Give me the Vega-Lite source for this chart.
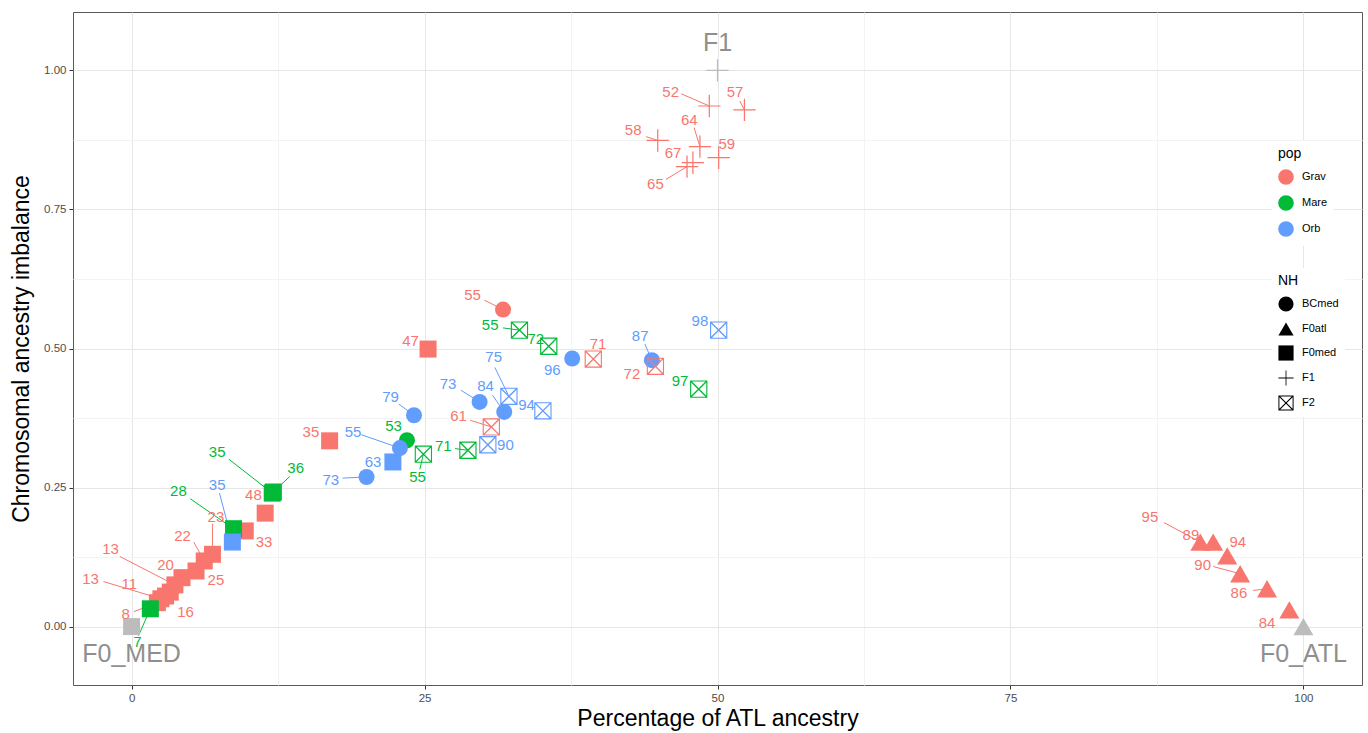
{
  "$schema": "https://vega.github.io/schema/vega-lite/v6.json",
  "width": 1289,
  "height": 673,
  "autosize": {"type": "none"},
  "padding": {"left": 73, "top": 12, "right": 6, "bottom": 48},
  "background": "white",
  "datasets": {
    "pts": [
      {"pop":"Grav","NH":"F0med","x":2.2,"y":0.043,"lab":"8","lx":-0.5,"ly":0.023,"sx":0.2,"sy":0.027},
      {"pop":"Grav","NH":"F0med","x":2.5,"y":0.05,"lab":"13","lx":-3.5,"ly":0.086,"sx":-2.4,"sy":0.081},
      {"pop":"Grav","NH":"F0med","x":2.9,"y":0.055,"lab":"11","lx":-0.2,"ly":0.077,"sx":null,"sy":null},
      {"pop":"Grav","NH":"F0med","x":3.3,"y":0.062,"lab":"16","lx":4.6,"ly":0.027,"sx":null,"sy":null},
      {"pop":"Grav","NH":"F0med","x":3.7,"y":0.075,"lab":"13","lx":-1.8,"ly":0.14,"sx":-1.0,"sy":0.126},
      {"pop":"Grav","NH":"F0med","x":4.3,"y":0.088,"lab":"20","lx":2.9,"ly":0.11,"sx":null,"sy":null},
      {"pop":"Grav","NH":"F0med","x":5.5,"y":0.1,"lab":"25","lx":7.2,"ly":0.083,"sx":null,"sy":null},
      {"pop":"Grav","NH":"F0med","x":6.2,"y":0.118,"lab":"22","lx":4.35,"ly":0.162,"sx":5.3,"sy":0.152},
      {"pop":"Grav","NH":"F0med","x":6.9,"y":0.13,"lab":"23","lx":7.2,"ly":0.197,"sx":6.9,"sy":0.185},
      {"pop":"Grav","NH":"F0med","x":9.7,"y":0.172,"lab":"33","lx":11.3,"ly":0.152,"sx":null,"sy":null},
      {"pop":"Grav","NH":"F0med","x":11.4,"y":0.204,"lab":"48","lx":10.4,"ly":0.237,"sx":null,"sy":null},
      {"pop":"Grav","NH":"F0med","x":16.9,"y":0.334,"lab":"35","lx":15.3,"ly":0.35,"sx":null,"sy":null},
      {"pop":"Grav","NH":"F0med","x":25.3,"y":0.499,"lab":"47","lx":23.8,"ly":0.513,"sx":null,"sy":null},
      {"pop":"Grav","NH":"BCmed","x":31.7,"y":0.57,"lab":"55","lx":29.1,"ly":0.597,"sx":30.1,"sy":0.587},
      {"pop":"Grav","NH":"F2","x":39.4,"y":0.481,"lab":"71","lx":39.8,"ly":0.508,"sx":null,"sy":null},
      {"pop":"Grav","NH":"F2","x":44.7,"y":0.468,"lab":"72","lx":42.7,"ly":0.454,"sx":null,"sy":null},
      {"pop":"Grav","NH":"F2","x":30.7,"y":0.359,"lab":"61","lx":27.9,"ly":0.378,"sx":28.9,"sy":0.371},
      {"pop":"Grav","NH":"F1","x":49.3,"y":0.936,"lab":"52","lx":46.0,"ly":0.961,"sx":46.9,"sy":0.958},
      {"pop":"Grav","NH":"F1","x":52.3,"y":0.929,"lab":"57","lx":51.5,"ly":0.961,"sx":51.9,"sy":0.945},
      {"pop":"Grav","NH":"F1","x":44.9,"y":0.874,"lab":"58","lx":42.8,"ly":0.893,"sx":43.9,"sy":0.881},
      {"pop":"Grav","NH":"F1","x":48.5,"y":0.863,"lab":"64","lx":47.6,"ly":0.911,"sx":48.0,"sy":0.897},
      {"pop":"Grav","NH":"F1","x":50.1,"y":0.843,"lab":"59","lx":50.8,"ly":0.868,"sx":null,"sy":null},
      {"pop":"Grav","NH":"F1","x":47.9,"y":0.834,"lab":"67","lx":46.2,"ly":0.852,"sx":null,"sy":null},
      {"pop":"Grav","NH":"F1","x":47.4,"y":0.827,"lab":"65","lx":44.7,"ly":0.795,"sx":45.6,"sy":0.804},
      {"pop":"Grav","NH":"F0atl","x":98.8,"y":0.03,"lab":"84","lx":96.9,"ly":0.007,"sx":null,"sy":null},
      {"pop":"Grav","NH":"F0atl","x":96.9,"y":0.068,"lab":"86","lx":94.5,"ly":0.061,"sx":95.7,"sy":0.065},
      {"pop":"Grav","NH":"F0atl","x":94.6,"y":0.095,"lab":"90","lx":91.4,"ly":0.111,"sx":92.3,"sy":0.108},
      {"pop":"Grav","NH":"F0atl","x":93.5,"y":0.127,"lab":"94","lx":94.4,"ly":0.152,"sx":null,"sy":null},
      {"pop":"Grav","NH":"F0atl","x":92.3,"y":0.152,"lab":"89","lx":90.4,"ly":0.165,"sx":null,"sy":null},
      {"pop":"Grav","NH":"F0atl","x":91.2,"y":0.152,"lab":"95","lx":86.9,"ly":0.197,"sx":88.1,"sy":0.187},
      {"pop":"Mare","NH":"F0med","x":1.6,"y":0.032,"lab":"7","lx":0.5,"ly":-0.027,"sx":0.6,"sy":-0.016},
      {"pop":"Mare","NH":"F0med","x":8.7,"y":0.176,"lab":"28","lx":4.0,"ly":0.244,"sx":5.0,"sy":0.23},
      {"pop":"Mare","NH":"F0med","x":12.0,"y":0.24,"lab":"35","lx":7.3,"ly":0.314,"sx":8.3,"sy":0.301},
      {"pop":"Mare","NH":"F0med","x":12.1,"y":0.242,"lab":"36","lx":14.0,"ly":0.285,"sx":13.5,"sy":0.27},
      {"pop":"Mare","NH":"BCmed","x":23.5,"y":0.335,"lab":"53","lx":22.35,"ly":0.36,"sx":null,"sy":null},
      {"pop":"Mare","NH":"F2","x":24.9,"y":0.31,"lab":"55","lx":24.4,"ly":0.269,"sx":24.6,"sy":0.283},
      {"pop":"Mare","NH":"F2","x":28.7,"y":0.317,"lab":"71","lx":26.6,"ly":0.325,"sx":27.6,"sy":0.32},
      {"pop":"Mare","NH":"F2","x":33.1,"y":0.533,"lab":"55","lx":30.6,"ly":0.542,"sx":31.7,"sy":0.537},
      {"pop":"Mare","NH":"F2","x":35.6,"y":0.504,"lab":"72","lx":34.5,"ly":0.517,"sx":null,"sy":null},
      {"pop":"Mare","NH":"F2","x":48.4,"y":0.427,"lab":"97","lx":46.8,"ly":0.441,"sx":null,"sy":null},
      {"pop":"Orb","NH":"F0med","x":8.6,"y":0.152,"lab":"35","lx":7.3,"ly":0.255,"sx":7.5,"sy":0.24},
      {"pop":"Orb","NH":"F0med","x":22.3,"y":0.296,"lab":"63","lx":20.6,"ly":0.296,"sx":null,"sy":null},
      {"pop":"Orb","NH":"BCmed","x":20.05,"y":0.269,"lab":"73","lx":17.0,"ly":0.264,"sx":18.0,"sy":0.267},
      {"pop":"Orb","NH":"BCmed","x":22.9,"y":0.321,"lab":"55","lx":18.9,"ly":0.35,"sx":19.6,"sy":0.345},
      {"pop":"Orb","NH":"BCmed","x":24.1,"y":0.38,"lab":"79","lx":22.1,"ly":0.412,"sx":22.8,"sy":0.4},
      {"pop":"Orb","NH":"BCmed","x":29.7,"y":0.404,"lab":"73","lx":27.0,"ly":0.436,"sx":28.1,"sy":0.425},
      {"pop":"Orb","NH":"BCmed","x":31.8,"y":0.386,"lab":"84","lx":30.2,"ly":0.432,"sx":30.8,"sy":0.416},
      {"pop":"Orb","NH":"BCmed","x":37.6,"y":0.482,"lab":"96","lx":35.9,"ly":0.461,"sx":null,"sy":null},
      {"pop":"Orb","NH":"BCmed","x":44.4,"y":0.479,"lab":"87","lx":43.4,"ly":0.522,"sx":43.8,"sy":0.508},
      {"pop":"Orb","NH":"F2","x":32.2,"y":0.414,"lab":"75","lx":30.9,"ly":0.484,"sx":31.0,"sy":0.466},
      {"pop":"Orb","NH":"F2","x":35.1,"y":0.388,"lab":"94","lx":33.7,"ly":0.398,"sx":null,"sy":null},
      {"pop":"Orb","NH":"F2","x":30.4,"y":0.327,"lab":"90","lx":31.9,"ly":0.326,"sx":null,"sy":null},
      {"pop":"Orb","NH":"F2","x":50.1,"y":0.533,"lab":"98","lx":48.5,"ly":0.549,"sx":null,"sy":null},
      {"pop":"ref","NH":"F0med","x":0,"y":0,"lab":"F0_MED","lx":0,"ly":-0.05,"sx":null,"sy":null},
      {"pop":"ref","NH":"F0atl","x":100,"y":0,"lab":"F0_ATL","lx":100,"ly":-0.05,"sx":null,"sy":null},
      {"pop":"ref","NH":"F1","x":50,"y":1,"lab":"F1","lx":50,"ly":1.05,"sx":null,"sy":null}
    ]
  },
  "data": {"name": "pts"},
  "encoding": {
    "x": {"field": "x", "type": "quantitative", "scale": {"domain": [-5, 105], "nice": false, "zero": false},
      "axis": {"title": "Percentage of ATL ancestry", "values": [0,12.5,25,37.5,50,62.5,75,87.5,100],
        "labelExpr": "datum.value % 25 == 0 ? format(datum.value, 'd') : ''",
        "gridColor": {"condition": {"test": "datum.value % 25 != 0", "value": "#f3f3f3"}, "value": "#e6e6e6"},
        "tickOpacity": {"condition": {"test": "datum.value % 25 != 0", "value": 0}, "value": 1},
        "titlePadding": 4, "labelPadding": 3}},
    "y": {"field": "y", "type": "quantitative", "scale": {"domain": [-0.105, 1.105], "nice": false, "zero": false},
      "axis": {"title": "Chromosomal ancestry imbalance", "values": [0,0.125,0.25,0.375,0.5,0.625,0.75,0.875,1],
        "labelExpr": "(datum.value*4) % 1 == 0 ? format(datum.value, '.2f') : ''",
        "gridColor": {"condition": {"test": "(datum.value*4) % 1 != 0", "value": "#f3f3f3"}, "value": "#e6e6e6"},
        "tickOpacity": {"condition": {"test": "(datum.value*4) % 1 != 0", "value": 0}, "value": 1},
        "titlePadding": 10, "labelPadding": 3}}
  },
  "layer": [
    {
      "transform": [{"filter": "datum.sx != null"}],
      "mark": {"type": "rule", "strokeWidth": 1},
      "encoding": {
        "x2": {"field": "sx"},
        "y2": {"field": "sy"},
        "color": {"field": "pop", "type": "nominal"}
      }
    },
    {
      "transform": [{"filter": "datum.NH == 'BCmed'"}],
      "mark": {"type": "point", "filled": true, "opacity": 1, "size": 256},
      "encoding": {
        "color": {"field": "pop", "type": "nominal",
          "scale": {"domain": ["Grav", "Mare", "Orb", "ref"], "range": ["#F8766D", "#00BA38", "#619CFF", "#bcbcbc"]},
          "legend": {"title": "pop", "values": ["Grav", "Mare", "Orb"], "orient": "none", "legendX": 1199, "legendY": 129, "fillColor": "white",
            "padding": 6, "symbolType": "circle", "symbolSize": 200, "labelFontSize": 11, "titleFontSize": 14,
            "titleFontWeight": 400, "rowPadding": 4, "labelOffset": 8, "titlePadding": 8}},
        "shape": {"field": "NH", "type": "nominal",
          "scale": {"domain": ["BCmed", "F0atl", "F0med", "F1", "F2"],
            "range": ["circle", "triangle-up", "square",
              "M-1,-0.055L1,-0.055L1,0.055L-1,0.055ZM-0.055,-1L0.055,-1L0.055,1L-0.055,1Z",
              "M-1,-1L1,-1L1,1L-1,1ZM-0.87,-0.87L-0.87,0.87L0.87,0.87L0.87,-0.87ZM-1,-0.89L-0.89,-1L1,0.89L0.89,1ZM-1,0.89L0.89,-1L1,-0.89L-0.89,1Z"]},
          "legend": {"title": "NH", "orient": "none", "legendX": 1199, "legendY": 256, "fillColor": "white",
            "padding": 6, "symbolSize": 230, "symbolFillColor": "black", "symbolStrokeWidth": 0, "labelFontSize": 11,
            "titleFontSize": 14, "titleFontWeight": 400, "rowPadding": 9, "labelOffset": 8, "titlePadding": 8}}
      }
    },
    {
      "transform": [{"filter": "datum.NH == 'F0atl'"}],
      "mark": {"type": "point", "filled": true, "opacity": 1, "size": 400},
      "encoding": {"color": {"field": "pop", "type": "nominal"}, "shape": {"field": "NH", "type": "nominal"}}
    },
    {
      "transform": [{"filter": "datum.NH == 'F0med'"}],
      "mark": {"type": "point", "filled": true, "opacity": 1, "size": 289},
      "encoding": {"color": {"field": "pop", "type": "nominal"}, "shape": {"field": "NH", "type": "nominal"}}
    },
    {
      "transform": [{"filter": "datum.NH == 'F1'"}],
      "mark": {"type": "point", "filled": true, "opacity": 1, "size": 500},
      "encoding": {"color": {"field": "pop", "type": "nominal"}, "shape": {"field": "NH", "type": "nominal"}}
    },
    {
      "transform": [{"filter": "datum.NH == 'F2'"}],
      "mark": {"type": "point", "filled": true, "opacity": 1, "size": 300},
      "encoding": {"color": {"field": "pop", "type": "nominal"}, "shape": {"field": "NH", "type": "nominal"}}
    },
    {
      "transform": [{"filter": "datum.pop != 'ref'"}],
      "mark": {"type": "text", "fontSize": 15, "font": "Liberation Sans", "baseline": "middle", "align": "center"},
      "encoding": {
        "x": {"field": "lx", "type": "quantitative"},
        "y": {"field": "ly", "type": "quantitative"},
        "text": {"field": "lab"},
        "color": {"field": "pop", "type": "nominal"}
      }
    },
    {
      "transform": [{"filter": "datum.pop == 'ref'"}],
      "mark": {"type": "text", "fontSize": 25, "font": "Liberation Sans", "baseline": "middle", "align": "center", "color": "#8f8f8f"},
      "encoding": {
        "x": {"field": "lx", "type": "quantitative"},
        "y": {"field": "ly", "type": "quantitative"},
        "text": {"field": "lab"}
      }
    }
  ],
  "config": {
    "font": "Liberation Sans",
    "view": {"stroke": "#5a5a5a", "strokeWidth": 1},
    "axis": {
      "domain": false,
      "grid": true,
      "gridWidth": 1,
      "tickColor": "#333333",
      "tickSize": 4,
      "labelColor": "#4d4d4d",
      "labelFontSize": 11.5,
      "labelFont": "Liberation Sans",
      "titleFont": "Liberation Sans",
      "titleFontSize": 23,
      "titleFontWeight": "normal",
      "titleColor": "#000000",
      "labelOverlap": false
    },
    "legend": {"labelFont": "Liberation Sans", "titleFont": "Liberation Sans", "labelColor": "#000000", "titleColor": "#000000",
      "titleFontWeight": 400, "titleFontSize": 14, "labelFontSize": 11}
  }
}
